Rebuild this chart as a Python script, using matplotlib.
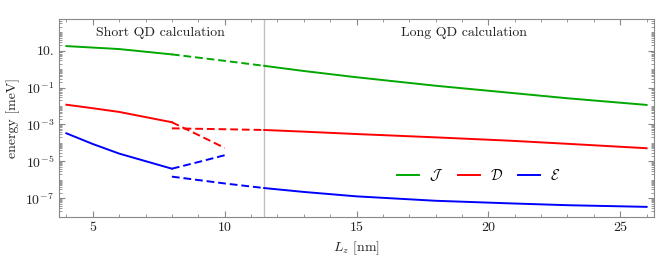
import matplotlib
matplotlib.use("Agg")
import matplotlib.pyplot as plt
import numpy as np
from matplotlib.ticker import FixedLocator, NullFormatter, LogLocator

plt.rcParams['font.family'] = ['cmr10', 'DejaVu Serif']
plt.rcParams['mathtext.fontset'] = 'cm'
plt.rcParams['axes.formatter.use_mathtext'] = True

# ---- data (log10 of energy in meV) ----
short_x = [4, 5, 6, 8]
J_short = [1.25, 1.17, 1.09, 0.80]
D_short = [-1.93, -2.12, -2.32, -2.88]
E_short = [-3.48, -4.06, -4.58, -5.40]

short_ext_x = [8, 9, 10]
D_short_ext = [-2.88, -3.57, -4.27]
E_short_ext = [-5.40, -5.04, -4.67]

long_ext_x = [8, 10, 11.5]
J_long_ext = [0.80, 0.45, 0.18]
D_long_ext = [-3.21, -3.26, -3.30]
E_long_ext = [-5.83, -6.20, -6.45]

long_x = [11.5, 13, 15, 18, 20.8, 23, 26]
J_long = [0.18, -0.10, -0.44, -0.90, -1.28, -1.58, -1.94]
D_long = [-3.30, -3.39, -3.52, -3.70, -3.88, -4.05, -4.29]
E_long = [-6.45, -6.66, -6.90, -7.14, -7.28, -7.38, -7.47]

split_x = 11.5
ytick_exp = [1, -1, -3, -5, -7]
ytick_labels = ['10.', '$10^{-1}$', '$10^{-3}$', '$10^{-5}$', '$10^{-7}$']
legend_labels = [r'$\mathcal{J}$', r'$\mathcal{D}$', r'$\mathcal{E}$']
colors = ['#00a800', '#ff0000', '#0000ff']

fig = plt.figure(figsize=(6.64, 2.67), dpi=100)
ax = fig.add_axes([59/664, 1-217/267, (654-59)/664, (217-19)/267])

def p(v):
    return 10**np.asarray(v)

lw = 1.4
dash = (4, 2)
series = [
    (J_short, None, J_long_ext, J_long),
    (D_short, D_short_ext, D_long_ext, D_long),
    (E_short, E_short_ext, E_long_ext, E_long),
]
handles = []
for (s, se, le, l), c, lab in zip(series, colors, legend_labels):
    h, = ax.plot(short_x, p(s), color=c, lw=lw, label=lab)
    handles.append(h)
    if se is not None:
        ax.plot(short_ext_x, p(se), color=c, lw=lw, dashes=dash)
    ax.plot(long_ext_x, p(le), color=c, lw=lw, dashes=dash)
    ax.plot(long_x, p(l), color=c, lw=lw)

ax.axvline(split_x, color='#c0c0c0', lw=1.0, zorder=0)

ax.set_yscale('log')
ax.set_xlim(3.72, 26.28)
ax.set_ylim(10**-8.02, 10**2.72)

ax.set_yticks([10.0**e for e in ytick_exp])
ax.set_yticklabels(ytick_labels)
ax.yaxis.set_minor_locator(LogLocator(base=10, subs=np.arange(1, 10), numticks=30))
ax.yaxis.set_minor_formatter(NullFormatter())

ax.set_xticks([5, 10, 15, 20, 25])
ax.set_xticklabels(['5', '10', '15', '20', '25'])
ax.xaxis.set_minor_locator(FixedLocator(np.arange(4, 27, 1)))

for sp in ax.spines.values():
    sp.set_color('#888888')
ax.tick_params(which='both', direction='in', top=True, right=True, color='#888888',
               labelsize=10, labelcolor='#222222')
ax.tick_params(which='major', length=4, width=0.8)
ax.tick_params(which='minor', length=2.5, width=0.6)

ax.set_xlabel('$L_z$ [nm]', fontsize=10, color='#222222')
ax.set_ylabel('energy [meV]', fontsize=10, color='#222222')

ax.text(0.17, 0.93, 'Short QD calculation', transform=ax.transAxes,
        ha='center', va='center', fontsize=10, color='#222222')
ax.text(0.68, 0.93, 'Long QD calculation', transform=ax.transAxes,
        ha='center', va='center', fontsize=10, color='#222222')

ax.legend(handles=handles, loc='center', bbox_to_anchor=(0.705, 0.21), ncol=3,
          frameon=False, fontsize=10.5, handlelength=1.5, columnspacing=1.0,
          handletextpad=0.7)

fig.savefig('out.png', dpi=100)
